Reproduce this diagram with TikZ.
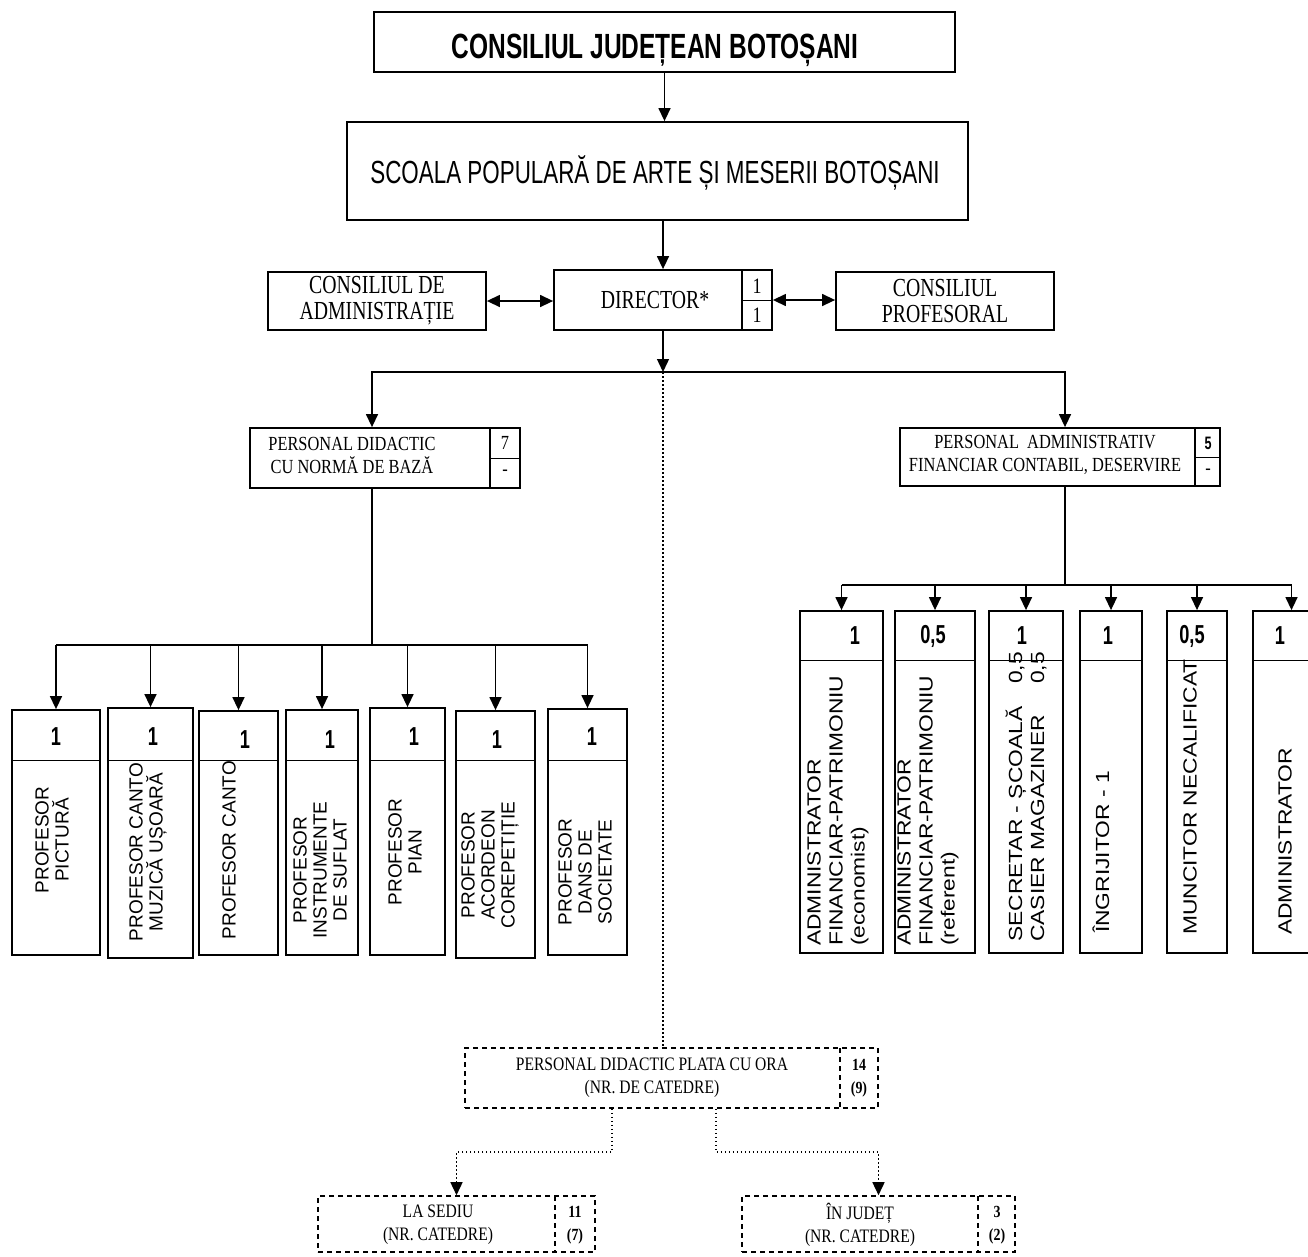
\documentclass[tikz,border=0pt]{standalone}
\usepackage{fontspec}
\setmainfont{Liberation Serif}
\setsansfont{Liberation Sans}
\newfontfamily\condsans[FakeStretch=0.7]{Liberation Sans}
\newfontfamily\narrowserif[FakeStretch=0.82]{Liberation Serif}
\newfontfamily\tallserif[FakeStretch=0.76]{Liberation Serif}
\newfontfamily\widesans[FakeStretch=1.2]{Liberation Sans}
\usetikzlibrary{arrows.meta,fit}
\newcommand{\bx}[6][box]{\coordinate (#2-a) at (#3,#4); \coordinate (#2-b) at (#5,#6); \node[#1, fit=(#2-a)(#2-b)] (#2) {};}
\tikzset{
 box/.style={draw, line width=1.8pt, inner sep=0pt},
 dbox/.style={draw, line width=1.6pt, dash pattern=on 5pt off 4pt, inner sep=0pt},
 ln/.style={line width=1.4pt},
 arr/.style={line width=1.4pt, -{Triangle[width=12pt,length=13pt]}},
 dbl/.style={line width=1.4pt, {Triangle[width=12pt,length=13pt]}-{Triangle[width=12pt,length=13pt]}},
 dotl/.style={line width=1.5pt, dash pattern=on 1.5pt off 2.5pt},
 darr/.style={dotl, -{Triangle[width=12pt,length=13pt]}},
 div/.style={line width=0.9pt},
 ttl/.style={font=\condsans\bfseries\fontsize{35}{40}\selectfont, inner sep=0pt},
 sch/.style={font=\condsans\fontsize{32}{36}\selectfont, inner sep=0pt},
 ser/.style={font=\tallserif\fontsize{26}{26}\selectfont, align=center, inner sep=0pt},
 sers/.style={font=\narrowserif\fontsize{20}{23}\selectfont, align=center, inner sep=0pt},
 serb/.style={font=\narrowserif\fontsize{19}{23}\selectfont, align=center, inner sep=0pt},
 cnum/.style={font=\narrowserif\bfseries\fontsize{17}{23}\selectfont, align=center, inner sep=0pt},
 num/.style={font=\condsans\bfseries\fontsize{26}{28}\selectfont, inner sep=0pt},
 vt/.style={font=\sffamily\fontsize{19}{20}\selectfont, rotate=90, align=center, inner sep=0pt},
 vr/.style={font=\widesans\fontsize{19}{22}\selectfont, rotate=90, align=left, anchor=west, inner sep=0pt},
}
\begin{document}
\begin{tikzpicture}[x=1pt, y=-1pt]
\useasboundingbox (0,0) rectangle (1308,1256);
% top
\bx{cj}{374}{12}{955}{72}
\node[ttl, anchor=base] (tcj) at (655,58) {CONSILIUL JUDEȚEAN BOTOȘANI};
\bx{sp}{347}{122}{968}{220}
\node[sch, anchor=base] (tsp) at (655,183) {SCOALA POPULARĂ DE ARTE ȘI MESERII BOTOȘANI};
\draw[arr] (cj.south) -- (cj.south |- sp.north);
% director row
\bx{cda}{268}{272}{486}{330}
\node[ser] (tcda) at (377,301) {CONSILIUL DE\\ADMINISTRAȚIE};
\bx{dir}{554}{270}{772}{330}
\draw[box] (742,270) -- (742,330);
\draw[div] (742,300) -- (772,300);
\node[ser] (tdir) at (655,300) {DIRECTOR*};
\node[ser, font=\narrowserif\fontsize{22}{24}\selectfont] (n1) at (757,286) {1};
\node[ser, font=\narrowserif\fontsize{22}{24}\selectfont] (n2) at (757,315) {1};
\bx{cp}{836}{272}{1054}{330}
\node[ser] (tcp) at (945,301) {CONSILIUL\\PROFESORAL};
\draw[arr] (sp.south -| dir.north) -- (dir.north);
\draw[dbl] (cda.east) -- (cda.east -| dir.west);
\draw[dbl] (dir.east) -- (dir.east -| cp.west);
% second level
\coordinate (dj) at (663,372);
\coordinate (pdj) at (372,645);
\coordinate (paj) at (1065,585);
\bx{pd}{250}{428}{520}{488}
\draw[box] (490,428) -- (490,488);
\draw[div] (490,458) -- (520,458);
\node[sers] (tpd) at (352,455) {PERSONAL DIDACTIC\\CU NORMĂ DE BAZĂ};
\node[sers] (npd1) at (505,443) {7};
\node[sers] (npd2) at (505,473) {-};
\bx{pa}{900}{428}{1220}{486}
\draw[box] (1195,428) -- (1195,486);
\draw[div] (1195,457) -- (1220,457);
\node[sers] (tpa) at (1045,455) {PERSONAL\ \ ADMINISTRATIV\\FINANCIAR CONTABIL, DESERVIRE};
\node[font=\condsans\bfseries\fontsize{18}{20}\selectfont, inner sep=0pt] (npa1) at (1208,443) {5};
\node[sers] (npa2) at (1208,472) {-};
\draw[arr] (dir.south) -- (dir.south |- dj);
\draw[arr] (dj) -| (pd.north -| pdj);
\draw[arr] (dj) -| (pa.north -| paj);
% left group
\bx{L1}{12}{710}{100}{955}
\bx{L2}{108}{708}{193}{958}
\bx{L3}{199}{711}{278}{955}
\bx{L4}{286}{710}{358}{955}
\bx{L5}{370}{708}{445}{955}
\bx{L6}{456}{711}{535}{958}
\bx{L7}{548}{709}{627}{955}
\foreach \a/\b in {12/100,108/193,199/278,286/358,370/445,456/535,548/627}
  \draw[div] (\a,760) -- (\b,760);
\draw[ln] (pd.south -| pdj) -- (pdj);
\draw[ln] (L1.north |- pdj) -- (L7.north |- pdj);
\foreach \n in {L1,L2,L3,L4,L5,L6,L7}
  \draw[arr] (\n.north |- pdj) -- (\n.north);
\node[num] (nL1) at (56,737) {1};
\node[num] (nL2) at (153,737) {1};
\node[num] (nL3) at (245,740) {1};
\node[num] (nL4) at (330,740) {1};
\node[num] (nL5) at (414,737) {1};
\node[num] (nL6) at (497,740) {1};
\node[num] (nL7) at (592,737) {1};
\node[vt] (tL1) at (52,840) {PROFESOR\\PICTURĂ};
\node[vt] (tL2) at (148,852) {PROFESOR CANTO\\MUZICĂ UȘOARĂ};
\node[vt] (tL3) at (229,850) {PROFESOR CANTO};
\node[vt] (tL4) at (320,870) {PROFESOR\\INSTRUMENTE\\DE SUFLAT};
\node[vt] (tL5) at (405,852) {PROFESOR\\PIAN};
\node[vt] (tL6) at (490,865) {PROFESOR\\ACORDEON\\COREPETIȚIE};
\node[vt] (tL7) at (585,872) {PROFESOR\\DANS DE\\SOCIETATE};
% right group
\bx{R1}{800}{611}{883}{953}
\bx{R2}{895}{611}{975}{953}
\bx{R3}{989}{611}{1063}{953}
\bx{R4}{1080}{611}{1142}{953}
\bx{R5}{1167}{611}{1227}{953}
\bx{R6}{1253}{611}{1330}{953}
\foreach \a/\b in {800/883,895/975,989/1063,1080/1142,1167/1227,1253/1330}
  \draw[div] (\a,660) -- (\b,660);
\draw[ln] (pa.south -| paj) -- (paj);
\draw[ln] (R1.north |- paj) -- (R6.north |- paj);
\foreach \n in {R1,R2,R3,R4,R5,R6}
  \draw[arr] (\n.north |- paj) -- (\n.north);
\node[num] (nR1) at (855,636) {1};
\node[num] (nR2) at (933,636) {0,5};
\node[num] (nR3) at (1022,636) {1};
\node[num] (nR4) at (1108,636) {1};
\node[num] (nR5) at (1192,636) {0,5};
\node[num] (nR6) at (1280,636) {1};
\node[vr] (tR1) at (838,946) {ADMINISTRATOR\\FINANCIAR-PATRIMONIU\\(economist)};
\node[vr] (tR2) at (928,946) {ADMINISTRATOR\\FINANCIAR-PATRIMONIU\\(referent)};
\node[vr] (tR3) at (1026,942) {\makebox[258pt][l]{SECRETAR - ȘCOALĂ}0,5\\\makebox[258pt][l]{CASIER MAGAZINER}0,5};
\node[vr] (tR4) at (1101,933) {ÎNGRIJITOR - 1};
\node[vr] (tR5) at (1190,935) {MUNCITOR NECALIFICAT};
\node[vr] (tR6) at (1285,935) {ADMINISTRATOR};
% hourly staff
\bx[dbox]{po}{465}{1048}{878}{1108}
\draw[dbox] (840,1048) -- (840,1108);
\node[serb] (tpo) at (652,1078) {PERSONAL DIDACTIC PLATA CU ORA\\(NR. DE CATEDRE)};
\node[cnum] (npo) at (859,1078) {14\\(9)};
\draw[dotl] (dj) -- (dj |- po.north);
\bx[dbox]{ls}{318}{1196}{595}{1252}
\draw[dbox] (555,1196) -- (555,1252);
\node[serb] (tls) at (438,1225) {LA SEDIU\\(NR. CATEDRE)};
\node[cnum] (nls) at (575,1225) {11\\(7)};
\bx[dbox]{ij}{742}{1196}{1015}{1252}
\draw[dbox] (978,1196) -- (978,1252);
\node[serb] (tij) at (860,1225) {ÎN JUDEȚ\\(NR. CATEDRE)};
\node[cnum] (nij) at (997,1225) {3\\(2)};
\coordinate (bl) at (612,1152);
\coordinate (br) at (716,1152);
\draw[darr] (po.south -| bl) -- (bl) -| (ls.north);
\draw[darr] (po.south -| br) -- (br) -| (ij.north);
\end{tikzpicture}
\end{document}
